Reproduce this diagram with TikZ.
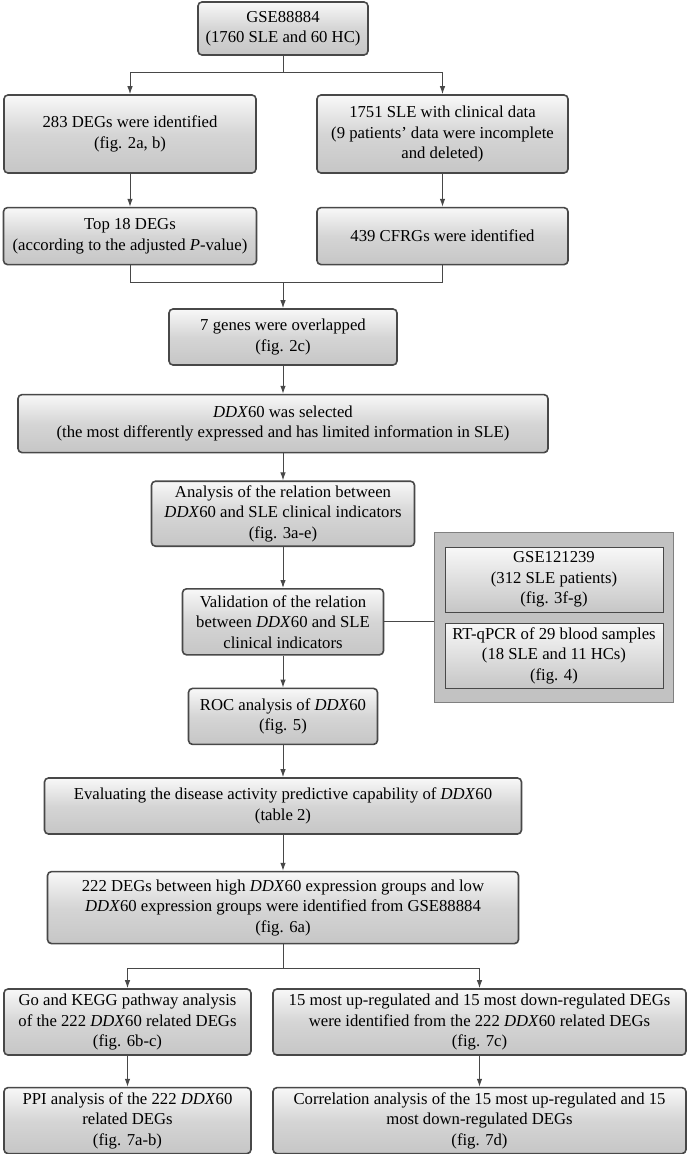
\documentclass[tikz,border=0pt]{standalone}
\usepackage{fontspec}
\setmainfont{Liberation Serif}
\usetikzlibrary{positioning,fit,backgrounds,arrows.meta}

\definecolor{boxtop}{RGB}{248,248,248}
\definecolor{boxbot}{RGB}{198,198,198}
\definecolor{edge}{RGB}{72,72,72}
\definecolor{groupfill}{RGB}{194,194,194}
\definecolor{groupedge}{RGB}{128,128,128}

\begin{document}
\begin{tikzpicture}[
    x=1pt, y=1pt,
    font=\fontsize{16.7}{20.5}\selectfont,
    box/.style={rectangle, draw=edge, line width=1.6pt, rounded corners=4pt, top color=boxtop, bottom color=boxbot, middle color=boxbot!70!boxtop, align=center, inner sep=3pt},
    subbox/.style={rectangle, draw=edge, line width=1pt, top color=boxtop, bottom color=boxbot, align=center, inner sep=3pt, minimum width=218pt, minimum height=65pt},
    arr/.style={-{Latex[length=8pt,width=5.5pt]}, draw=edge, line width=1pt},
    link/.style={draw=edge, line width=1pt}
]
\useasboundingbox (0,0) rectangle (689,-1154);

% Start
\node[box, minimum width=170pt, minimum height=53pt] (gse) at (283,-28.5) {GSE88884\\(1760 SLE and 60 HC)};

% Two branches
\node[box, minimum width=252pt, minimum height=78pt] (deg) at (130,-134) {283 DEGs were identified\\(fig. 2a, b)};
\node[box, minimum width=251pt, minimum height=78pt] (clin) at (442.5,-134) {1751 SLE with clinical data\\(9 patients' data were incomplete\\and deleted)};
\node[box, below=33pt of deg, minimum width=253pt, minimum height=57pt] (top18) {Top 18 DEGs\\(according to the adjusted \textit{P}-value)};
\node[box, below=33pt of clin, minimum width=251pt, minimum height=57pt] (cfrg) {439 CFRGs were identified};

% Main column
\node[box, minimum width=228pt, minimum height=56pt] (overlap) at (283,-337) {7 genes were overlapped\\(fig. 2c)};
\node[box, below=28pt of overlap, minimum width=530pt, minimum height=58pt] (ddx) {\textit{DDX}60 was selected\\(the most differently expressed and has limited information in SLE)};
\node[box, below=27pt of ddx, minimum width=263pt, minimum height=65pt] (relation) {Analysis of the relation between\\\textit{DDX}60 and SLE clinical indicators\\(fig. 3a-e)};
\node[box, below=41pt of relation, minimum width=201pt, minimum height=66pt] (valid) {Validation of the relation\\between \textit{DDX}60 and SLE\\clinical indicators};
\node[box, below=32pt of valid, minimum width=189pt, minimum height=56pt] (roc) {ROC analysis of \textit{DDX}60\\(fig. 5)};
\node[box, below=32pt of roc, minimum width=477pt, minimum height=56pt] (eval) {Evaluating the disease activity predictive capability of \textit{DDX}60\\(table 2)};
\node[box, below=36pt of eval, minimum width=471pt, minimum height=72pt] (d222) {222 DEGs between high \textit{DDX}60 expression groups and low\\\textit{DDX}60 expression groups were identified from GSE88884\\(fig. 6a)};

% Validation group
\node[subbox] (gse121) at (554,-579.5) {GSE121239\\(312 SLE patients)\\(fig. 3f-g)};
\node[subbox] (rtq) at (554,-655.5) {RT-qPCR of 29 blood samples\\(18 SLE and 11 HCs)\\(fig. 4)};
\begin{scope}[on background layer]
\node[draw=groupedge, fill=groupfill, line width=1.2pt, fit=(gse121)(rtq), inner xsep=10pt, inner ysep=14pt] (grp) {};
\end{scope}

% Bottom branches
\node[box, minimum width=247pt, minimum height=66pt] (go) at (127.5,-1022) {Go and KEGG pathway analysis\\of the 222 \textit{DDX}60 related DEGs\\(fig. 6b-c)};
\node[box, minimum width=413pt, minimum height=66pt] (updown) at (479.5,-1022) {15 most up-regulated and 15 most down-regulated DEGs\\were identified from the 222 \textit{DDX}60 related DEGs\\(fig. 7c)};
\node[box, below=31pt of go, minimum width=247pt, minimum height=66pt] (ppi) {PPI analysis of the 222 \textit{DDX}60\\related DEGs\\(fig. 7a-b)};
\node[box, below=31pt of updown, minimum width=413pt, minimum height=66pt] (corr) {Correlation analysis of the 15 most up-regulated and 15\\most down-regulated DEGs\\(fig. 7d)};

% Connectors
\draw[link] (gse.south) -- ++(0,-17) coordinate (split1);
\draw[arr] (split1) -| (deg.north);
\draw[arr] (split1) -| (clin.north);
\draw[arr] (deg) -- (top18);
\draw[arr] (clin) -- (cfrg);
\path (overlap.north) ++(0,26) coordinate (merge);
\draw[link] (top18.south) |- (merge) -| (cfrg.south);
\draw[arr] (merge) -- (overlap.north);
\draw[arr] (overlap) -- (ddx);
\draw[arr] (ddx) -- (relation);
\draw[arr] (relation) -- (valid);
\draw[arr] (valid) -- (roc);
\draw[arr] (roc) -- (eval);
\draw[arr] (eval) -- (d222);
\draw[link] (valid.east) -- (valid.east -| grp.west);
\draw[link] (d222.south) -- ++(0,-24) coordinate (split2);
\draw[arr] (split2) -| (go.north);
\draw[arr] (split2) -| (updown.north);
\draw[arr] (go) -- (ppi);
\draw[arr] (updown) -- (corr);

\end{tikzpicture}
\end{document}
